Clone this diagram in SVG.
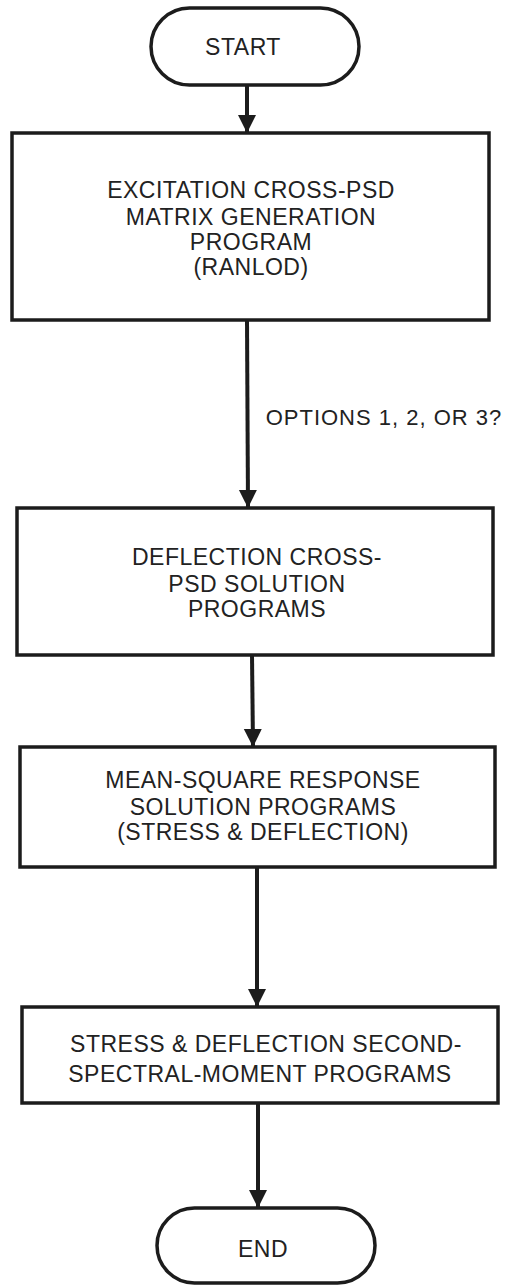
<svg xmlns="http://www.w3.org/2000/svg" width="509" height="1287" viewBox="0 0 509 1287">
<style>
.box{fill:#fff;stroke:#1c1c1c;stroke-width:3.5}
.t{font-family:"Liberation Sans",Arial,sans-serif;font-size:23px;fill:#222;text-anchor:middle;letter-spacing:0.5px}
.c{fill:none;stroke:#1c1c1c;stroke-width:4}
</style>
<defs>
<marker id="ah" markerUnits="userSpaceOnUse" markerWidth="20" markerHeight="26" refX="18" refY="9" orient="auto">
<path d="M0,0 L18,9 L0,18 Z" fill="#1c1c1c"/>
</marker>
</defs>
<rect width="509" height="1287" fill="#fff"/>
<g id="connectors">
<path class="c" d="M247,85 L247,133" marker-end="url(#ah)"/>
<path class="c" d="M247,320 L248,508" marker-end="url(#ah)"/>
<path class="c" d="M252,655 L253,747" marker-end="url(#ah)"/>
<path class="c" d="M257,867 L257,1007" marker-end="url(#ah)"/>
<path class="c" d="M258,1103 L258,1208" marker-end="url(#ah)"/>
<text class="t" x="384" y="425" style="font-size:22px;letter-spacing:1px">OPTIONS 1, 2, OR 3?</text>
</g>
<g id="start">
<rect class="box" x="151" y="8" width="208" height="77" rx="38.5"/>
<text class="t" x="243" y="55">START</text>
</g>
<g id="excitation">
<rect class="box" x="12" y="133" width="477" height="187"/>
<text class="t" x="251" y="198">EXCITATION CROSS-PSD</text>
<text class="t" x="251" y="225">MATRIX GENERATION</text>
<text class="t" x="251" y="250">PROGRAM</text>
<text class="t" x="251" y="275">(RANLOD)</text>
</g>
<g id="deflection">
<rect class="box" x="17" y="508" width="476" height="147"/>
<text class="t" x="257" y="565">DEFLECTION CROSS-</text>
<text class="t" x="257" y="592">PSD SOLUTION</text>
<text class="t" x="257" y="617">PROGRAMS</text>
</g>
<g id="meansquare">
<rect class="box" x="20" y="747" width="475" height="120"/>
<text class="t" x="263" y="788">MEAN-SQUARE RESPONSE</text>
<text class="t" x="263" y="815">SOLUTION PROGRAMS</text>
<text class="t" x="263" y="840">(STRESS &amp; DEFLECTION)</text>
</g>
<g id="spectral">
<rect class="box" x="22" y="1007" width="476" height="96"/>
<text class="t" x="266" y="1052">STRESS &amp; DEFLECTION SECOND-</text>
<text class="t" x="260" y="1082">SPECTRAL-MOMENT PROGRAMS</text>
</g>
<g id="end">
<rect class="box" x="157" y="1208" width="218" height="75" rx="37.5"/>
<text class="t" x="263" y="1257">END</text>
</g>
</svg>
